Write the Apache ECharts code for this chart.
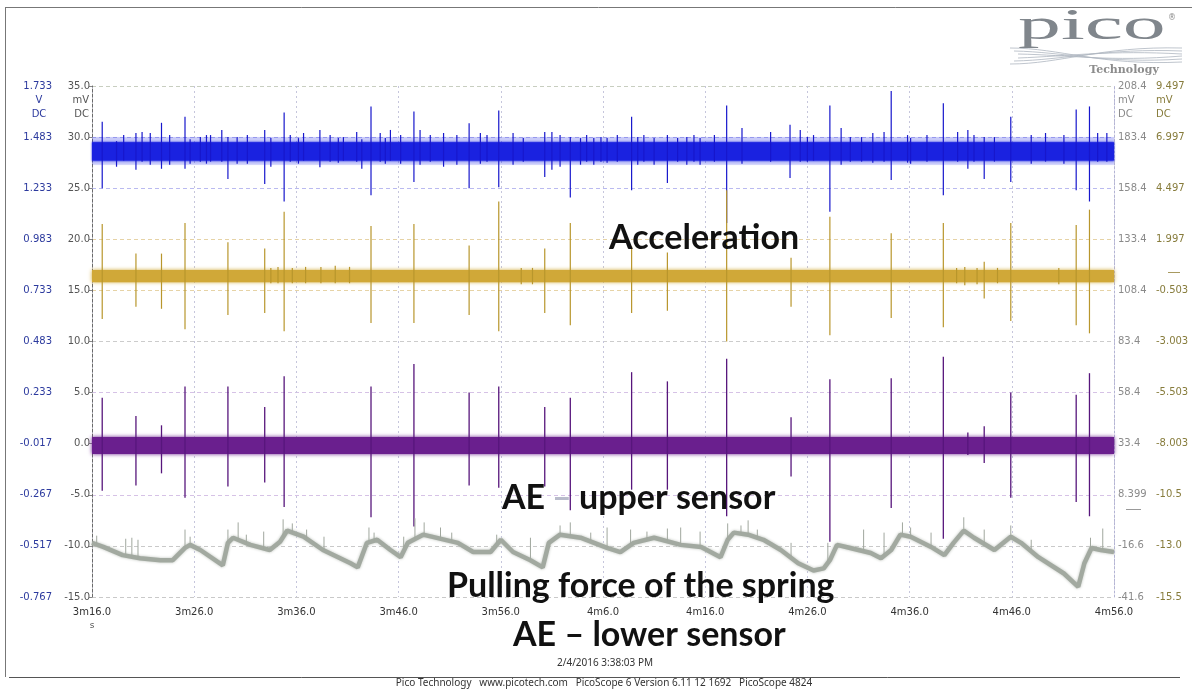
<!DOCTYPE html>
<html>
<head>
<meta charset="utf-8">
<script src="https://cdn.jsdelivr.net/npm/echarts@6/dist/echarts.min.js"></script>
<style>
  html, body { margin: 0; padding: 0; background: #ffffff; }
  #chart { width: 1192px; height: 689px; }
</style>
</head>
<body>
<div id="chart"></div>
<script>
// ---- axis tick labels -------------------------------------------------
const timeLabels   = ['3m16.0','3m26.0','3m36.0','3m46.0','3m56.0','4m6.0','4m16.0','4m26.0','4m36.0','4m46.0','4m56.0'];
const mvTicks      = ['-15.0','-10.0','-5.0','0.0','5.0','10.0','15.0','20.0','25.0','30.0','35.0'];
const voltTicks    = ['-0.767','-0.517','-0.267','-0.017','0.233','0.483','0.733','0.983','1.233','1.483','1.733'];
const rightMvTicks = ['-41.6','-16.6','8.399','33.4','58.4','83.4','108.4','133.4','158.4','183.4','208.4'];
const rightMv2Ticks= ['-15.5','-13.0','-10.5','-8.003','-5.503','-3.003','-0.503','1.997','4.497','6.997','9.497'];

// ---- channel traces (time in s after 3m16.0, amplitude in mV) -------
// steady noise band of each channel: [low, high]
const blueFringe  = [27.3, 30.0];
const blueCore    = [27.7, 29.5];
const goldBand    = [15.8, 17.0];
const purpleBand  = [-1.0, 0.65];

// bursts: [time, min, max]
const blueSpikes = [
  [1.0,25.0,31.5],[2.4,27.1,29.6],[3.1,27.7,30.2],[4.3,26.8,30.4],[4.9,27.6,30.5],[5.7,27.3,30.4],
  [6.8,26.9,31.4],[7.6,27.3,30.2],[9.1,26.9,32.0],[9.6,27.4,29.8],[10.6,27.6,30.0],[11.2,27.4,30.2],
  [11.6,27.6,30.2],[12.7,27.6,30.7],[13.3,25.9,30.0],[14.2,27.4,30.0],[15.2,27.4,30.2],[16.9,25.4,30.7],
  [17.5,27.1,29.9],[18.8,23.7,32.4],[19.4,27.6,30.2],[20.2,27.4,29.9],[20.7,27.7,30.4],[22.3,27.05,30.7],
  [23.3,27.6,30.2],[24.1,27.5,29.9],[24.6,27.7,30.0],[25.9,27.6,30.5],[26.4,26.9,29.8],[27.3,24.3,33.0],
  [28.2,27.6,30.4],[28.7,27.4,29.9],[29.2,27.7,30.7],[30.2,27.4,30.2],[31.5,25.6,32.5],[32.1,27.3,30.7],
  [33.1,27.6,30.2],[34.4,27.1,30.4],[35.7,27.3,30.2],[36.9,25.0,31.35],[38.0,27.4,30.4],[38.65,27.6,30.2],
  [39.8,25.1,32.6],[41.2,27.3,30.4],[42.2,27.6,29.9],[44.3,26.1,30.5],[45.0,26.8,30.5],[45.8,27.1,30.2],
  [46.8,24.1,30.0],[47.8,27.3,29.9],[48.4,27.6,30.2],[49.1,27.3,29.9],[49.8,27.6,30.0],[50.4,27.5,29.9],
  [51.4,27.6,30.2],[52.8,24.8,32.0],[53.4,27.3,30.0],[54.0,27.6,30.2],[55.0,27.3,29.9],[56.3,25.5,30.2],
  [57.3,27.6,29.9],[58.2,27.3,30.0],[58.9,27.6,30.2],[59.5,27.3,29.9],[60.9,27.6,30.2],[62.1,21.6,33.1],
  [63.6,27.4,30.9],[66.4,27.6,30.5],[68.3,26.0,31.2],[69.3,27.6,30.7],[70.0,27.6,30.0],[70.6,27.7,30.2],
  [72.2,22.7,33.1],[73.3,27.3,30.9],[74.2,27.6,30.0],[75.3,27.6,30.0],[76.4,27.5,30.4],[77.5,27.6,30.5],
  [78.2,25.8,34.5],[79.8,27.5,30.2],[80.1,27.4,29.9],[81.7,27.6,30.2],[83.3,24.3,33.3],[84.7,27.6,30.5],
  [85.7,26.9,30.7],[86.3,27.6,30.2],[87.3,25.9,30.0],[88.3,27.6,30.0],[89.9,25.6,32.0],[91.9,27.4,30.2],
  [93.3,27.6,30.4],[95.1,27.4,30.2],[96.3,24.8,32.7],[97.6,23.7,33.0],[98.4,27.6,30.4],[99.3,27.6,30.4]
];

const goldSpikes = [
  [1.0,12.2,21.5],[4.3,13.4,18.6],[6.8,13.2,18.6],[9.1,11.2,21.6],[13.3,12.6,19.7],[16.9,12.8,19.1],
  [18.8,11.0,22.7],[27.3,11.8,21.3],[31.5,11.8,21.5],[36.9,12.6,19.4],[39.8,11.0,23.7],[44.3,12.8,19.1],
  [46.8,11.6,21.6],[52.8,12.8,19.3],[56.3,13.0,18.7],[62.1,10.0,24.8],[68.4,13.4,18.2],[72.2,10.6,22.2],
  [78.2,12.3,20.6],[83.3,11.4,21.6],[87.3,14.2,17.8],[89.9,12.0,21.6],[96.3,11.6,21.4],[97.6,10.8,22.9],
  [17.5,15.7,17.2],[18.2,15.7,17.3],[19.6,15.7,17.2],[20.9,15.7,17.3],[22.4,15.7,17.3],[23.8,15.7,17.4],
  [25.2,15.7,17.3],[42.0,15.6,17.2],[43.1,15.6,17.2],[84.6,15.7,17.2],[85.4,15.5,17.3],[86.6,15.6,17.2],
  [88.6,15.7,17.2],[94.6,15.6,17.2]
];

const purpleSpikes = [
  [1.0,-4.6,4.5],[4.3,-4.1,2.7],[6.8,-2.9,1.8],[9.1,-5.3,5.6],[13.3,-4.2,5.6],[16.9,-3.8,3.6],
  [18.8,-6.2,6.6],[27.3,-7.2,5.6],[31.5,-8.1,7.8],[36.9,-4.1,5.0],[39.8,-4.3,5.6],[44.3,-4.2,3.6],
  [46.8,-6.5,4.5],[52.8,-4.5,7.0],[56.3,-4.5,6.1],[62.1,-7.1,8.3],[68.4,-3.2,2.6],[72.2,-9.6,6.3],
  [78.2,-6.3,6.4],[83.3,-9.3,8.5],[85.7,-1.1,1.1],[87.3,-1.9,1.7],[89.9,-5.3,5.0],[96.3,-5.7,4.8],
  [97.6,-7.1,6.9]
];

// spring pulling force
const forcePoints = [
  [0,-9.7],[1.1,-10.1],[3.0,-10.9],[4.7,-11.2],[6.7,-11.4],[7.9,-11.4],[9.1,-10.2],[9.6,-9.9],
  [10.6,-10.4],[12.8,-11.9],[13.3,-9.7],[13.8,-9.2],[15.5,-9.9],[17.4,-10.4],[18.4,-9.6],[19.1,-8.5],
  [20.7,-9.1],[22.6,-10.4],[25.3,-11.7],[26.0,-12.1],[26.9,-9.7],[27.9,-9.4],[29.2,-10.4],[30.2,-11.1],
  [30.9,-9.7],[32.4,-8.9],[35.8,-9.7],[37.3,-10.6],[39.0,-10.6],[40.0,-9.4],[41.2,-10.6],[42.9,-11.4],
  [44.1,-12.1],[44.7,-9.7],[45.8,-8.9],[47.8,-9.2],[50.4,-10.2],[51.7,-10.6],[53.0,-9.7],[55.0,-9.2],
  [57.6,-9.9],[59.6,-10.1],[61.5,-11.1],[62.2,-9.4],[62.8,-8.7],[64.2,-8.9],[65.7,-9.4],[67.4,-10.4],
  [69.1,-11.7],[70.6,-12.4],[71.6,-12.2],[72.2,-11.4],[72.9,-9.9],[74.2,-10.2],[76.2,-10.7],[77.2,-11.2],
  [78.2,-10.4],[79.1,-8.9],[80.1,-9.1],[82.1,-10.1],[83.4,-10.9],[84.3,-9.7],[85.3,-8.5],[86.3,-9.2],
  [88.3,-10.4],[89.9,-9.1],[90.9,-9.7],[92.6,-11.1],[95.1,-12.7],[96.5,-14.0],[97.1,-11.7],[97.8,-10.2],
  [98.7,-10.4],[100,-10.6]
];
const forceSpikes = [
  [0.46,-9.9,-9.0],[3.3,-10.9,-9.3],[3.9,-11.0,-9.2],[4.5,-11.2,-9.4],[9.1,-10.2,-8.4],[9.6,-9.9,-9.1],
  [13.3,-9.7,-8.4],[14.3,-9.4,-7.7],[15.1,-9.8,-8.9],[16.8,-10.3,-8.6],[18.7,-9.2,-7.4],[19.6,-8.7,-7.8],
  [21.0,-9.3,-8.4],[22.7,-10.4,-9.1],[27.1,-9.6,-8.2],[27.6,-9.5,-8.7],[30.5,-10.4,-9.1],[31.6,-9.3,-7.3],
  [32.5,-8.9,-7.7],[34.1,-9.3,-8.2],[35.2,-9.6,-8.7],[39.6,-9.8,-8.9],[42.9,-11.4,-9.2],[45.8,-8.9,-8.0],
  [46.8,-9.0,-7.7],[48.8,-9.5,-8.7],[50.4,-10.2,-8.2],[52.7,-9.8,-8.4],[54.3,-9.4,-8.6],[56.3,-9.6,-8.3],
  [57.6,-9.9,-8.2],[59.5,-10.1,-8.6],[62.2,-9.4,-7.8],[63.5,-8.8,-8.0],[64.2,-8.9,-7.5],[65.1,-9.2,-8.4],
  [68.4,-11.0,-9.7],[72.0,-11.8,-9.7],[75.5,-10.5,-8.4],[77.5,-11.0,-8.7],[79.3,-8.9,-7.7],[80.1,-9.1,-8.2],
  [82.1,-10.1,-8.7],[85.3,-8.5,-7.2],[87.3,-9.9,-8.4],[89.9,-9.1,-8.0],[91.9,-10.4,-9.4],[97.7,-10.2,-9.2],
  [98.9,-10.4,-8.3]
];

// ---- scale limits ------------------------------------------------------
const T_MIN = 0, T_MAX = 100, T_STEP = 10;
const Y_MIN = -15, Y_MAX = 35, Y_STEP = 5;

function tickText(list, min, step) {
  return function (v) { return list[Math.round((v - min) / step)] || ''; };
}

function bandItem(color, blur) {
  return function (params, api) {
    const a = api.coord([api.value(0), api.value(3)]);
    const b = api.coord([api.value(1), api.value(2)]);
    return {
      type: 'rect',
      shape: { x: a[0], y: a[1], width: b[0] - a[0], height: b[1] - a[1] },
      style: { fill: color, shadowBlur: blur, shadowColor: color }
    };
  };
}
function spikeItem(color, width) {
  return function (params, api) {
    const a = api.coord([api.value(0), api.value(1)]);
    const b = api.coord([api.value(0), api.value(2)]);
    return {
      type: 'line',
      shape: { x1: a[0], y1: a[1], x2: b[0], y2: b[1] },
      style: { stroke: color, lineWidth: width }
    };
  };
}
function band(range, color, blur, z) {
  return {
    type: 'custom', silent: true, z: z,
    data: [[T_MIN, T_MAX, range[0], range[1]]],
    renderItem: bandItem(color, blur)
  };
}
function spikes(list, color, width, z) {
  return { type: 'custom', silent: true, z: z, data: list, renderItem: spikeItem(color, width) };
}

const sideFont = 'DejaVu Sans';
const hLineColors = ['#c9c9c9','#c9c9c9','#d6c2e6','#d6c2e6','#d6c2e6','#cccccc',
                     '#e6d3a6','#e6d3a6','#babaf0','#babaf0','#c8cec0'];

function yAxisBase(extra) {
  return Object.assign({
    type: 'value', min: Y_MIN, max: Y_MAX, interval: Y_STEP,
    axisLine: { show: false }, axisTick: { show: false }, splitLine: { show: false }
  }, extra);
}

const T = (text, x, y, font, fill, align, extra) => Object.assign({
  type: 'text', x: x, y: y, z: 100, silent: true,
  style: { text: text, font: font, fill: fill, textAlign: align || 'left', align: align || 'left',
           textVerticalAlign: 'middle', verticalAlign: 'middle' }
}, extra || {});

const wave = (x1, y1, c1x, c1y, c2x, c2y, x2, y2) => ({
  type: 'bezierCurve', silent: true,
  shape: { x1: x1, y1: y1, cpx1: c1x, cpy1: c1y, cpx2: c2x, cpy2: c2y, x2: x2, y2: y2 },
  style: { stroke: '#aeb6c0', lineWidth: 0.8, fill: null }
});

const bigFont = 'bold 34px Lato';
const small = '10px "DejaVu Sans"';

const option = {
  animation: false,
  backgroundColor: '#ffffff',
  grid: { left: 92, right: 78, top: 86, bottom: 92, containLabel: false, outerBoundsMode: 'none' },
  xAxis: {
    type: 'value', min: T_MIN, max: T_MAX, interval: T_STEP,
    axisLine: { show: false },
    axisTick: { show: true, inside: true, length: 4, lineStyle: { color: '#b8b8c8' } },
    axisLabel: { formatter: tickText(timeLabels, T_MIN, T_STEP), color: '#333', fontSize: 10,
                 fontFamily: sideFont, margin: 10, showMinLabel: true, showMaxLabel: true },
    splitLine: { show: true, lineStyle: { color: '#c6c6dc', type: [2, 3], width: 1 } }
  },
  yAxis: [
    yAxisBase({
      position: 'left',
      axisLine: { show: true, lineStyle: { color: '#6a6a6a', type: [3, 2] } },
      axisTick: { show: true, length: 3, lineStyle: { color: '#888' } },
      axisLabel: { formatter: tickText(mvTicks, Y_MIN, Y_STEP), color: '#555', fontSize: 10,
                   fontFamily: sideFont, margin: 2 },
      splitLine: { show: true, lineStyle: { type: [4, 3], color: hLineColors } }
    }),
    yAxisBase({
      position: 'left', offset: 38,
      axisLabel: { formatter: tickText(voltTicks, Y_MIN, Y_STEP), color: '#2c3a9e', fontSize: 10,
                   fontFamily: sideFont, margin: 2 }
    }),
    yAxisBase({
      position: 'right',
      axisLine: { show: true, lineStyle: { color: '#b4b4d4', type: [2, 2] } },
      axisLabel: { formatter: tickText(rightMvTicks, Y_MIN, Y_STEP), color: '#8a8a8a', fontSize: 10,
                   fontFamily: sideFont, margin: 4 }
    }),
    yAxisBase({
      position: 'right', offset: 38,
      axisLabel: { formatter: tickText(rightMv2Ticks, Y_MIN, Y_STEP), color: '#877c3c', fontSize: 10,
                   fontFamily: sideFont, margin: 4 }
    })
  ],
  series: [
    band(blueFringe, 'rgba(40,48,232,0.22)', 2, 2),
    band(blueCore, '#1a22e0', 2, 3),
    spikes(blueSpikes, '#1717cc', 1.2, 4),
    band(goldBand, '#d0a838', 4, 3),
    spikes(goldSpikes, '#b8962c', 1.2, 4),
    band(purpleBand, '#6a1f8e', 4, 3),
    spikes(purpleSpikes, '#57167c', 1.3, 4),
    {
      type: 'line', data: forcePoints, symbol: 'none', silent: true, z: 3,
      lineStyle: { color: '#a2a9a0', width: 4.5, shadowBlur: 3, shadowColor: '#bcc1ba' }
    },
    spikes(forceSpikes, '#a0a79e', 1, 4)
  ],
  graphic: [
    // frame
    { type: 'line', silent: true, shape: { x1: 5, y1: 7.5, x2: 1192, y2: 7.5 }, style: { stroke: '#777', lineWidth: 1 } },
    { type: 'line', silent: true, shape: { x1: 5.5, y1: 7, x2: 5.5, y2: 677 }, style: { stroke: '#777', lineWidth: 1 } },
    { type: 'line', silent: true, shape: { x1: 9, y1: 677.5, x2: 1180, y2: 677.5 }, style: { stroke: '#555', lineWidth: 1 } },

    // unit captions
    T('V', 39, 100, small, '#2c3a9e', 'center'),
    T('DC', 39, 114, small, '#2c3a9e', 'center'),
    T('mV', 89, 100, small, '#555', 'right'),
    T('DC', 89, 114, small, '#555', 'right'),
    T('mV', 1118, 100, small, '#8a8a8a', 'left'),
    T('DC', 1118, 114, small, '#8a8a8a', 'left'),
    T('mV', 1156, 100, small, '#877c3c', 'left'),
    T('DC', 1156, 114, small, '#877c3c', 'left'),
    T('s', 92, 626, '9px "DejaVu Sans"', '#555', 'center'),
    { type: 'line', silent: true, shape: { x1: 1168, y1: 272.5, x2: 1180, y2: 272.5 }, style: { stroke: '#a89a60', lineWidth: 1 } },
    { type: 'line', silent: true, shape: { x1: 1126, y1: 509.5, x2: 1141, y2: 509.5 }, style: { stroke: '#999', lineWidth: 1 } },

    // channel captions
    T('Acceleration', 609, 238, bigFont, '#111'),
    T('AE', 502, 498, bigFont, '#111'),
    T('–', 552, 498, bigFont, '#b9bccb'),
    T('upper sensor', 579, 498, bigFont, '#111'),
    T('Pulling force of the spring', 447, 586, bigFont, '#111'),
    T('AE – lower sensor', 513, 635, bigFont, '#111'),

    // footer
    T('2/4/2016 3:38:03 PM', 605, 663, '10px "Noto Sans"', '#333', 'center'),
    T('Pico Technology   www.picotech.com   PicoScope 6 Version 6.11 12 1692   PicoScope 4824',
      604, 683, '10px "Noto Sans"', '#333', 'center'),

    // logo
    T('pico', 1018, 27, '44px "Liberation Serif"', '#80868c', 'left', { scaleX: 1.95, originX: 0, originY: 0 }),
    T('®', 1172, 18, '8px "DejaVu Sans"', '#888', 'center'),
    T('Technology', 1124, 70, 'bold 11px "DejaVu Serif"', '#8c8c8c', 'center'),
    wave(1010, 64, 1060, 64, 1100, 46, 1182, 48),
    wave(1014, 61, 1065, 60, 1105, 48, 1182, 51),
    wave(1018, 58, 1070, 56, 1110, 50, 1182, 54),
    wave(1010, 48, 1060, 48, 1100, 66, 1182, 62),
    wave(1014, 51, 1065, 52, 1105, 64, 1182, 59),
    wave(1018, 54, 1070, 55, 1110, 62, 1182, 56)
  ]
};

const chart = echarts.init(document.getElementById('chart'), null, { renderer: 'canvas' });
chart.setOption(option);
</script>
</body>
</html>
